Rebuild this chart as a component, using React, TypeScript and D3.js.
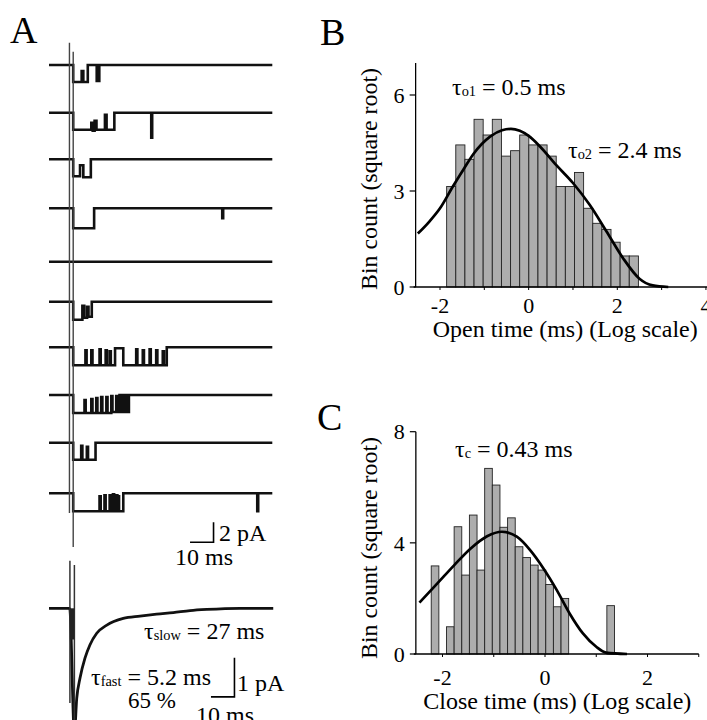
import React from 'react';
import * as d3 from 'd3';

const FONT = '"Liberation Serif", "Times New Roman", serif';

// ---- Panel A: single-channel sweeps (time in ms, current in pA, step change points) ----
const sweepEnd = 95;
const artifactTimes = [8.7, 10.3];
const sweeps: [number, number][][] = [
  [[0, 0], [10.3, -1.7], [13.9, -0.6], [14.6, -1.7], [16.5, 0], [20.3, -1.6], [21.4, 0], [95, 0]],
  [[0, 0], [10.3, -1.7], [18.0, -1.0], [18.6, -1.8], [19.4, -0.8], [20.2, -1.7], [23.8, -0.2], [24.5, -1.7], [27.8, 0], [43.5, -2.5], [43.9, 0], [95, 0]],
  [[0, 0], [10.3, -1.7], [13.2, -0.6], [14.6, -1.8], [17.8, 0], [95, 0]],
  [[0, 0], [10.3, -2.0], [19.2, 0], [73.7, -1.0], [74.1, 0], [95, 0]],
  [[0, 0], [95, 0]],
  [[0, 0], [10.3, -1.8], [14.2, -0.4], [15.0, -1.6], [16.2, -0.5], [16.8, -1.5], [18.2, 0], [95, 0]],
  [[0, 0], [10.3, -1.8], [15.5, -0.3], [16.0, -1.8], [18.0, -0.3], [18.5, -1.8], [21.5, -0.2], [22.0, -1.8], [24.1, -0.3], [24.6, -1.8], [25.8, -0.4], [26.3, -1.8], [28.1, -0.1], [31.6, -1.8], [37.1, -0.2], [37.6, -1.8], [39.9, -0.3], [40.4, -1.8], [42.8, -0.2], [43.3, -1.8], [45.6, -0.3], [46.1, -1.8], [48.4, -0.4], [48.9, -1.8], [50.1, 0], [95, 0]],
  [[0, 0], [10.3, -1.8], [15.1, -0.5], [15.6, -1.8], [18.0, -0.4], [18.5, -1.8], [20.1, -0.3], [20.6, -1.8], [22.2, -0.2], [22.7, -1.8], [24.4, -0.2], [24.9, -1.8], [26.5, -0.1], [27.0, -1.7], [28.6, -0.1], [29.1, -1.7], [30.0, 0], [30.5, -1.7], [31.4, 0], [31.9, -1.7], [32.9, 0], [33.4, -1.7], [34.0, 0], [95, 0]],
  [[0, 0], [10.3, -1.7], [13.7, -0.3], [14.2, -1.7], [16.1, -0.4], [16.6, -1.7], [19.8, 0], [95, 0]],
  [[0, 0], [10.3, -1.8], [21.5, -0.3], [22.0, -1.8], [23.6, -0.2], [24.1, -1.8], [25.8, -0.2], [26.3, -1.8], [27.2, -0.1], [27.7, -1.8], [28.6, -0.2], [29.1, -1.8], [29.4, -0.3], [29.8, -1.8], [31.6, 0], [88.6, -1.8], [89.0, 0], [95, 0]],
];
// ensemble average (pA) after the pulse
const averageCurrent: [number, number][] = [
  [0, 0], [8.8, 0], [10.8, -3.2], [11.8, -2.31], [13.2, -1.79], [15.3, -1.28], [17.4, -0.94], [20.3, -0.64],
  [24.6, -0.43], [31.6, -0.26], [38.7, -0.2], [45.8, -0.15], [52.9, -0.11], [60, -0.06], [67.1, -0.03], [81.3, 0], [95.4, 0],
];
const averageArtifacts: [number, number, number][] = [[8.9, 1.22, -2.43], [10.8, 1.11, -3.2]];

// ---- Panel B: open time histogram ----
const openBinStart = -1.85;
const openBinWidth = 0.206;
const openCounts = [3.14, 4.44, 3.99, 5.24, 4.75, 5.24, 4.09, 4.26, 4.75, 4.44, 4.44, 4.09, 3.14, 3.14, 3.58, 2.46, 1.99, 1.8, 1.4, 0.97, 0.97];
const openFit: [number, number][] = [
  [-2.5, 1.67], [-2.25, 2.03], [-2.0, 2.46], [-1.71, 3.14], [-1.45, 3.72], [-1.25, 4.15], [-0.87, 4.7], [-0.6, 4.9], [-0.4, 4.94],
  [-0.2, 4.88], [0.0, 4.72], [0.25, 4.4], [0.63, 3.8], [1.0, 3.25], [1.38, 2.56], [1.75, 1.75], [2.13, 0.9], [2.5, 0.26], [2.8, 0.05], [3.15, 0],
];
const openTicksY = [0, 3, 6];
const openTicksX = [-2, 0, 2, 4];

// ---- Panel C: close time histogram ----
const closeBinStart = -2.22;
const closeBinWidth = 0.149;
const closeCounts = [3.17, 0, 0.98, 4.58, 2.84, 5.0, 3.02, 6.68, 6.08, 4.56, 4.9, 3.86, 3.47, 3.2, 3.02, 2.5, 1.7, 2.0, 0, 0, 0, 0, 0, 1.74];
const closeFit: [number, number][] = [
  [-2.45, 1.85], [-2.1, 2.54], [-1.77, 3.2], [-1.45, 3.8], [-1.13, 4.24], [-0.84, 4.4], [-0.55, 4.22], [-0.29, 3.74],
  [-0.03, 3.08], [0.23, 2.3], [0.48, 1.46], [0.74, 0.74], [1.0, 0.26], [1.19, 0.05], [1.6, 0],
];
const closeTicksY = [0, 4, 8];
const closeTicksX = [-2, 0, 2];

const sweepBaselines = [65, 112.7, 159.3, 208.3, 261.7, 301.7, 347.3, 395, 442.7, 493.3];

function Tau({ x, y, sub, rest, size = 24 }: { x: number; y: number; sub: string; rest: string; size?: number }) {
  return (
    <text x={x} y={y} fontSize={size} fontFamily={FONT}>
      τ<tspan fontSize={size * 0.6} dy={1}>{sub}</tspan>
      <tspan dy={-1} fontSize={size}>{' = ' + rest}</tspan>
    </text>
  );
}

function Histogram({ counts, binStart, binWidth, fit, x, y, ticksX, ticksY, xStart, xEnd, yTop, xTitle, titleLen, xLabelY, yTitleY }: any) {
  const axisX = x(xStart);
  const line = d3.line<[number, number]>().x(d => x(d[0])).y(d => y(d[1])).curve(d3.curveMonotoneX);
  return (
    <g fontFamily={FONT}>
      {counts.map((c: number, i: number) => c > 0 && (
        <rect key={i} x={x(binStart + i * binWidth)} y={y(c)}
          width={x(binStart + (i + 1) * binWidth) - x(binStart + i * binWidth)} height={y(0) - y(c)}
          fill="#adadad" stroke="#222" strokeWidth={0.9} />
      ))}
      <path d={line(fit) ?? ''} fill="none" stroke="#000" strokeWidth={2.7} />
      <line x1={axisX - 2} x2={x(xEnd)} y1={y(0)} y2={y(0)} stroke="#000" strokeWidth={1.3} />
      <line x1={axisX} x2={axisX} y1={y(0)} y2={y(yTop)} stroke="#000" strokeWidth={1.3} />
      {ticksY.map((t: number) => (
        <g key={t}>
          <line x1={axisX - 6} x2={axisX} y1={y(t)} y2={y(t)} stroke="#000" strokeWidth={1.2} />
          <text x={axisX - 11} y={y(t)} dy="0.35em" textAnchor="end" fontSize={22}>{t}</text>
        </g>
      ))}
      {d3.range(Math.ceil(xStart), Math.floor(xEnd) + 1).map(t => (
        <line key={t} x1={x(t)} x2={x(t)} y1={y(0)} y2={y(0) + 3} stroke="#000" strokeWidth={1} />
      ))}
      {ticksX.map((t: number) => (
        <text key={t} x={x(t)} y={xLabelY} textAnchor="middle" fontSize={22}>{t}</text>
      ))}
      <text x={(x(xStart) + x(xEnd)) / 2} y={xLabelY + 24} textAnchor="middle" fontSize={23}
        textLength={titleLen} lengthAdjust="spacingAndGlyphs">{xTitle}</text>
      <text transform={`translate(377,${yTitleY}) rotate(-90)`} textAnchor="middle" fontSize={23}
        textLength={222} lengthAdjust="spacingAndGlyphs">Bin count (square root)</text>
    </g>
  );
}

export default function App() {
  const tX = d3.scaleLinear().domain([0, sweepEnd]).range([49, 272.3]);
  const pA = d3.scaleLinear().domain([0, -1]).range([0, 10]);
  const avgBase = 608.3;
  const pAavg = d3.scaleLinear().domain([0, -1]).range([avgBase, avgBase + 39]);

  const xB = d3.scaleLinear().domain([-2, 2]).range([440, 617.3]);
  const yB = d3.scaleLinear().domain([0, 6]).range([287, 95]);
  const xC = d3.scaleLinear().domain([-2, 2]).range([442.5, 647.5]);
  const yC = d3.scaleLinear().domain([0, 8]).range([654, 431.7]);

  const avgLine = d3.line<[number, number]>().x(d => tX(d[0])).y(d => pAavg(d[1])).curve(d3.curveMonotoneX);

  return (
    <svg width={707} height={720} style={{ position: 'absolute', left: 0, top: 0, background: '#fff' }}>
      <rect width={707} height={720} fill="#fff" />
      {/* Panel letters */}
      <text x={10} y={43} fontSize={38} fontFamily={FONT}>A</text>
      <text x={320} y={45} fontSize={38} fontFamily={FONT}>B</text>
      <text x={317} y={430} fontSize={38} fontFamily={FONT}>C</text>

      {/* Panel A sweeps */}
      {sweeps.map((s, i) => {
        const base = sweepBaselines[i];
        const line = d3.line<[number, number]>().x(d => tX(d[0])).y(d => base + pA(d[1])).curve(d3.curveStepAfter);
        return <path key={i} d={line(s) ?? ''} fill="none" stroke="#111" strokeWidth={2.6} />;
      })}
      <line x1={tX(artifactTimes[0])} x2={tX(artifactTimes[0])} y1={42.7} y2={513} stroke="#444" strokeWidth={1.4} />
      <line x1={tX(artifactTimes[1])} x2={tX(artifactTimes[1])} y1={51.7} y2={547} stroke="#444" strokeWidth={1.4} />

      {/* 2 pA / 10 ms scale bar */}
      <path d={`M${tX(60)},${493.3 + pA(-4.9)} H${tX(70)} V${493.3 + pA(-2.9)}`} fill="none" stroke="#000" strokeWidth={1.6} />
      <text x={219} y={541} fontSize={24} fontFamily={FONT}>2 pA</text>
      <text x={204} y={565} fontSize={24} fontFamily={FONT} textAnchor="middle">10 ms</text>

      {/* Ensemble average */}
      <path d={avgLine(averageCurrent) ?? ''} fill="none" stroke="#111" strokeWidth={2.8} />
      {averageArtifacts.map(([t, a, b], i) => (
        <line key={i} x1={tX(t)} x2={tX(t)} y1={pAavg(a)} y2={pAavg(b)} stroke="#333" strokeWidth={1.5} />
      ))}
      <rect x={tX(averageArtifacts[0][0])} y={pAavg(0)} width={tX(averageArtifacts[1][0]) - tX(averageArtifacts[0][0])} height={pAavg(-0.8) - pAavg(0)} fill="#222" />
      <path d={`M${tX(68.9)},${pAavg(-2.27)} H${tX(78.9)} V${pAavg(-1.27)}`} fill="none" stroke="#000" strokeWidth={1.6} />
      <Tau x={144} y={639} sub="slow" rest="27 ms" />
      <Tau x={91} y={685} sub="fast" rest="5.2 ms" />
      <text x={152} y={708} fontSize={23} fontFamily={FONT} textAnchor="middle">65 %</text>
      <text x={237} y={691} fontSize={24} fontFamily={FONT}>1 pA</text>
      <text x={225} y={723} fontSize={24} fontFamily={FONT} textAnchor="middle">10 ms</text>

      {/* Panel B */}
      <Histogram counts={openCounts} binStart={openBinStart} binWidth={openBinWidth} fit={openFit}
        x={xB} y={yB} ticksX={openTicksX} ticksY={openTicksY} xStart={-2.55} xEnd={4.2} yTop={7}
        xTitle="Open time (ms) (Log scale)" titleLen={265} xLabelY={313} yTitleY={179} />
      <Tau x={452} y={95} sub="o1" rest="0.5 ms" />
      <Tau x={568} y={158} sub="o2" rest="2.4 ms" />

      {/* Panel C */}
      <Histogram counts={closeCounts} binStart={closeBinStart} binWidth={closeBinWidth} fit={closeFit}
        x={xC} y={yC} ticksX={closeTicksX} ticksY={closeTicksY} xStart={-2.52} xEnd={3.0} yTop={8}
        xTitle="Close time (ms) (Log scale)" titleLen={268} xLabelY={685} yTitleY={548} />
      <Tau x={455} y={457} sub="c" rest="0.43 ms" />
    </svg>
  );
}
